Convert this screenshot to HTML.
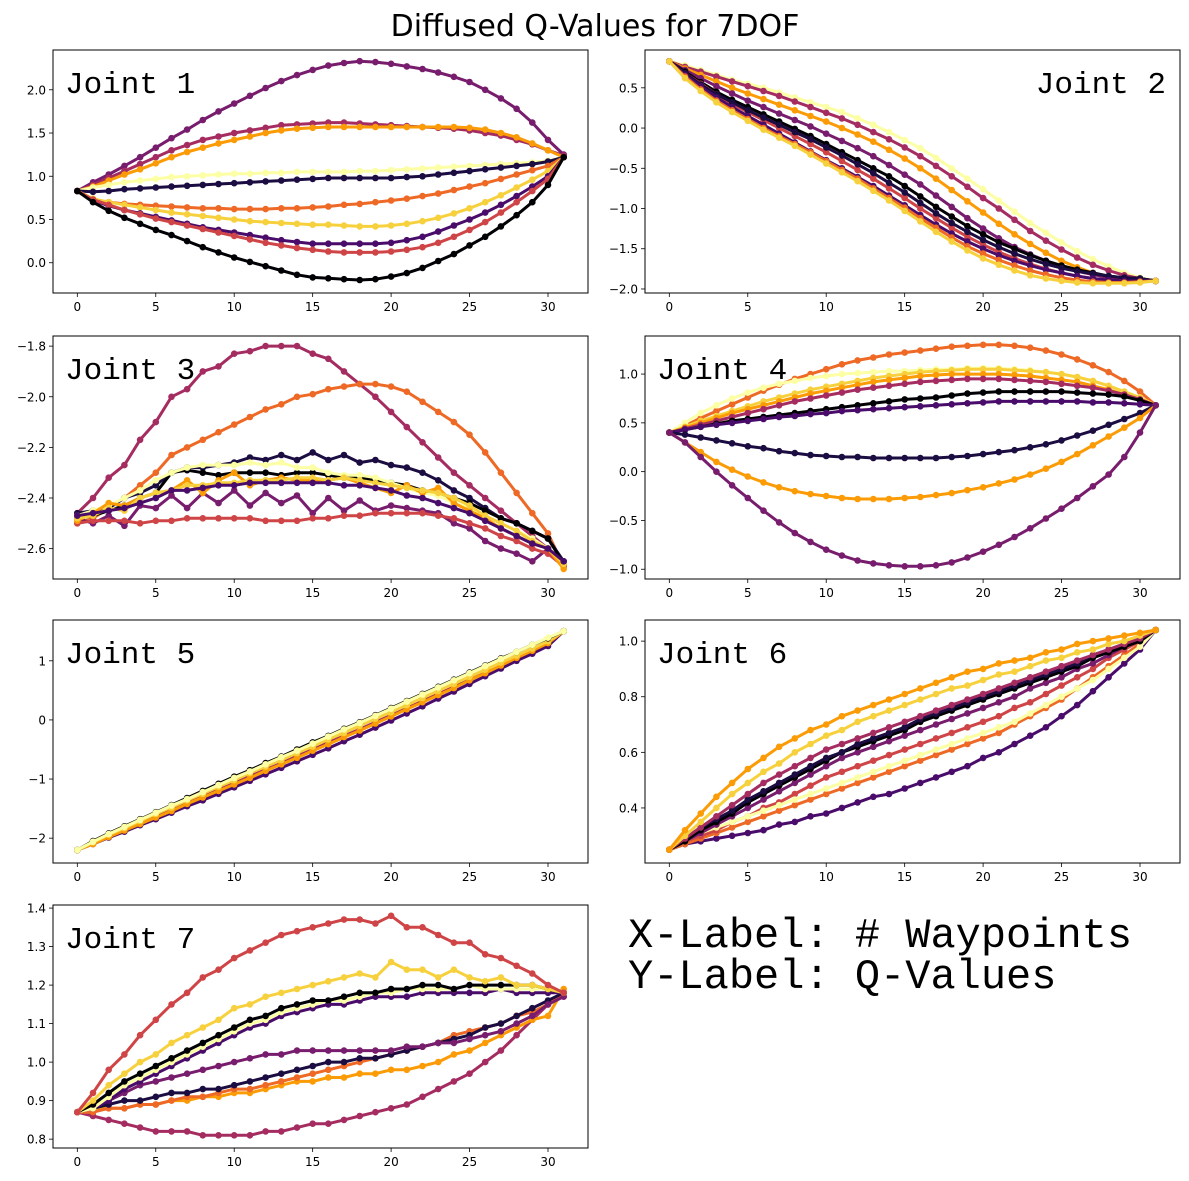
<!DOCTYPE html>
<html><head><meta charset="utf-8">
<style>
html,body{margin:0;padding:0;background:#fff;width:1189px;height:1181px;overflow:hidden}
svg{display:block}
text{font-family:"DejaVu Sans","Liberation Sans",sans-serif}
.mono{font-family:"Liberation Mono",monospace}
</style></head>
<body>
<svg id="fig" width="1189" height="1181" viewBox="0 0 1189 1181">
<text x="595" y="36" text-anchor="middle" font-size="30">Diffused Q-Values for 7DOF</text>
<text class="mono" x="628" y="947" font-size="42">X-Label: # Waypoints</text>
<text class="mono" x="628" y="988" font-size="42">Y-Label: Q-Values</text>
</svg>
<script>
const xTicks = [0,5,10,15,20,25,30];

const j1Colors = ["#781c6d","#a52c60","#fb9b06","#fcffa4","#1b0c41","#ed6925","#f7d13d","#4a0c6b","#cf4446","#000004"];
const j1Series = [
[0.83,0.93,1.02,1.12,1.22,1.33,1.44,1.54,1.65,1.75,1.84,1.93,2.02,2.1,2.17,2.23,2.28,2.31,2.33,2.32,2.3,2.27,2.24,2.2,2.15,2.09,2.0,1.9,1.78,1.62,1.42,1.25],
[0.83,0.9,0.98,1.06,1.14,1.22,1.3,1.36,1.42,1.46,1.5,1.53,1.56,1.59,1.6,1.61,1.62,1.62,1.61,1.6,1.59,1.58,1.57,1.56,1.55,1.53,1.5,1.47,1.42,1.37,1.3,1.24],
[0.83,0.88,0.95,1.02,1.08,1.15,1.22,1.28,1.33,1.38,1.42,1.46,1.5,1.53,1.55,1.56,1.57,1.57,1.57,1.57,1.57,1.57,1.57,1.57,1.57,1.56,1.54,1.5,1.45,1.38,1.3,1.22],
[0.83,0.87,0.9,0.93,0.95,0.97,0.99,1.0,1.01,1.02,1.03,1.03,1.04,1.04,1.05,1.05,1.05,1.05,1.06,1.06,1.07,1.08,1.09,1.1,1.11,1.12,1.13,1.14,1.15,1.16,1.18,1.22],
[0.83,0.82,0.83,0.85,0.86,0.87,0.88,0.89,0.9,0.91,0.92,0.93,0.94,0.95,0.96,0.97,0.98,0.98,0.98,0.98,0.98,0.99,1.0,1.02,1.04,1.06,1.08,1.1,1.12,1.14,1.17,1.22],
[0.83,0.72,0.7,0.68,0.67,0.66,0.65,0.64,0.63,0.63,0.62,0.62,0.62,0.63,0.63,0.64,0.65,0.67,0.68,0.7,0.72,0.74,0.77,0.8,0.84,0.88,0.92,0.97,1.02,1.07,1.12,1.22],
[0.83,0.74,0.7,0.67,0.64,0.61,0.58,0.56,0.54,0.52,0.5,0.48,0.47,0.46,0.45,0.44,0.44,0.43,0.42,0.42,0.43,0.45,0.48,0.52,0.57,0.63,0.7,0.78,0.87,0.96,1.06,1.22],
[0.83,0.72,0.66,0.61,0.57,0.53,0.49,0.45,0.41,0.38,0.35,0.32,0.29,0.26,0.24,0.22,0.22,0.22,0.22,0.22,0.23,0.26,0.3,0.36,0.43,0.5,0.58,0.67,0.77,0.88,1.0,1.22],
[0.83,0.73,0.67,0.61,0.56,0.51,0.47,0.43,0.39,0.35,0.31,0.27,0.23,0.2,0.17,0.15,0.13,0.12,0.12,0.12,0.13,0.15,0.18,0.23,0.3,0.38,0.47,0.58,0.7,0.83,0.97,1.22],
[0.83,0.7,0.6,0.52,0.45,0.38,0.32,0.25,0.18,0.12,0.06,0.01,-0.04,-0.09,-0.14,-0.17,-0.18,-0.19,-0.2,-0.19,-0.16,-0.12,-0.06,0.02,0.1,0.2,0.3,0.42,0.55,0.7,0.9,1.22]];
const j1Ticks = [0,0.5,1,1.5,2];
const j1Range = [-0.35,2.46];

const j2Colors = ["#fcffa4","#a52c60","#fb9b06","#781c6d","#000004","#cf4446","#1b0c41","#4a0c6b","#ed6925","#f7d13d"];
const j2Series = [
[0.83,0.78,0.72,0.66,0.6,0.55,0.5,0.44,0.38,0.32,0.26,0.2,0.12,0.04,-0.05,-0.15,-0.25,-0.37,-0.5,-0.63,-0.76,-0.9,-1.04,-1.18,-1.3,-1.42,-1.53,-1.63,-1.72,-1.8,-1.86,-1.9],
[0.83,0.76,0.7,0.64,0.58,0.52,0.46,0.4,0.33,0.26,0.19,0.12,0.04,-0.05,-0.14,-0.24,-0.35,-0.47,-0.6,-0.73,-0.87,-1.0,-1.14,-1.28,-1.4,-1.51,-1.61,-1.7,-1.77,-1.83,-1.87,-1.9],
[0.83,0.74,0.66,0.58,0.5,0.43,0.36,0.29,0.22,0.15,0.08,0.0,-0.08,-0.17,-0.27,-0.38,-0.5,-0.63,-0.77,-0.91,-1.05,-1.19,-1.32,-1.44,-1.55,-1.65,-1.73,-1.8,-1.85,-1.88,-1.9,-1.9],
[0.83,0.72,0.62,0.52,0.43,0.34,0.26,0.18,0.1,0.02,-0.07,-0.16,-0.25,-0.35,-0.46,-0.58,-0.7,-0.84,-0.98,-1.12,-1.25,-1.37,-1.48,-1.57,-1.65,-1.72,-1.78,-1.82,-1.86,-1.88,-1.89,-1.9],
[0.83,0.7,0.57,0.45,0.35,0.26,0.17,0.08,-0.01,-0.1,-0.2,-0.3,-0.4,-0.5,-0.6,-0.72,-0.85,-0.98,-1.1,-1.22,-1.32,-1.42,-1.5,-1.58,-1.65,-1.71,-1.76,-1.8,-1.84,-1.86,-1.87,-1.9],
[0.83,0.68,0.55,0.42,0.3,0.2,0.1,0.0,-0.1,-0.2,-0.3,-0.41,-0.52,-0.63,-0.75,-0.87,-1.0,-1.12,-1.24,-1.35,-1.45,-1.54,-1.62,-1.69,-1.75,-1.8,-1.84,-1.87,-1.89,-1.9,-1.9,-1.9],
[0.83,0.68,0.54,0.42,0.32,0.22,0.13,0.04,-0.05,-0.14,-0.24,-0.34,-0.45,-0.56,-0.68,-0.8,-0.93,-1.06,-1.18,-1.29,-1.39,-1.48,-1.56,-1.63,-1.69,-1.74,-1.78,-1.81,-1.84,-1.86,-1.87,-1.9],
[0.83,0.66,0.52,0.38,0.26,0.15,0.04,-0.07,-0.18,-0.29,-0.4,-0.5,-0.61,-0.72,-0.84,-0.96,-1.08,-1.2,-1.31,-1.41,-1.5,-1.58,-1.65,-1.71,-1.76,-1.8,-1.84,-1.87,-1.89,-1.9,-1.9,-1.9],
[0.83,0.64,0.48,0.34,0.22,0.11,0.0,-0.1,-0.2,-0.3,-0.41,-0.52,-0.63,-0.75,-0.87,-0.99,-1.12,-1.24,-1.36,-1.47,-1.56,-1.64,-1.71,-1.77,-1.82,-1.86,-1.89,-1.91,-1.92,-1.92,-1.91,-1.9],
[0.83,0.62,0.46,0.32,0.2,0.09,-0.02,-0.12,-0.22,-0.33,-0.44,-0.55,-0.66,-0.78,-0.9,-1.03,-1.16,-1.29,-1.41,-1.52,-1.62,-1.7,-1.77,-1.83,-1.87,-1.9,-1.92,-1.93,-1.93,-1.93,-1.92,-1.9]];
const j2Ticks = [-2,-1.5,-1,-0.5,0,0.5];
const j2Range = [-2.05,0.97];

const j3Colors = ["#a52c60","#ed6925","#1b0c41","#000004","#fcffa4","#781c6d","#cf4446","#fb9b06","#f7d13d","#4a0c6b"];
const j3Series = [
[-2.46,-2.4,-2.32,-2.27,-2.17,-2.1,-2.0,-1.97,-1.9,-1.88,-1.83,-1.82,-1.8,-1.8,-1.8,-1.83,-1.85,-1.9,-1.95,-2.0,-2.06,-2.12,-2.18,-2.24,-2.3,-2.35,-2.4,-2.45,-2.5,-2.55,-2.6,-2.66],
[-2.5,-2.48,-2.44,-2.4,-2.35,-2.3,-2.23,-2.2,-2.17,-2.14,-2.11,-2.08,-2.05,-2.03,-2.0,-1.99,-1.97,-1.96,-1.95,-1.95,-1.96,-1.98,-2.02,-2.06,-2.1,-2.15,-2.22,-2.3,-2.38,-2.46,-2.54,-2.67],
[-2.46,-2.45,-2.44,-2.4,-2.38,-2.35,-2.3,-2.28,-2.28,-2.27,-2.26,-2.24,-2.25,-2.23,-2.25,-2.22,-2.25,-2.23,-2.26,-2.25,-2.27,-2.28,-2.3,-2.33,-2.37,-2.4,-2.44,-2.48,-2.5,-2.53,-2.56,-2.65],
[-2.48,-2.47,-2.45,-2.43,-2.4,-2.38,-2.3,-2.29,-2.3,-2.31,-2.3,-2.3,-2.3,-2.31,-2.3,-2.3,-2.31,-2.32,-2.32,-2.33,-2.34,-2.35,-2.37,-2.38,-2.4,-2.42,-2.45,-2.48,-2.5,-2.53,-2.56,-2.66],
[-2.47,-2.45,-2.43,-2.4,-2.37,-2.33,-2.3,-2.28,-2.27,-2.27,-2.27,-2.26,-2.27,-2.26,-2.28,-2.28,-2.3,-2.31,-2.31,-2.32,-2.34,-2.36,-2.38,-2.39,-2.42,-2.44,-2.47,-2.5,-2.53,-2.56,-2.6,-2.66],
[-2.48,-2.5,-2.47,-2.51,-2.43,-2.44,-2.39,-2.44,-2.38,-2.42,-2.37,-2.43,-2.38,-2.42,-2.39,-2.46,-2.4,-2.45,-2.41,-2.45,-2.43,-2.44,-2.45,-2.46,-2.5,-2.52,-2.57,-2.6,-2.62,-2.65,-2.6,-2.66],
[-2.5,-2.49,-2.49,-2.49,-2.5,-2.49,-2.49,-2.48,-2.48,-2.48,-2.48,-2.48,-2.49,-2.49,-2.49,-2.48,-2.48,-2.47,-2.47,-2.46,-2.46,-2.46,-2.46,-2.47,-2.48,-2.5,-2.52,-2.55,-2.57,-2.6,-2.62,-2.67],
[-2.49,-2.46,-2.42,-2.43,-2.4,-2.38,-2.37,-2.33,-2.38,-2.33,-2.3,-2.35,-2.33,-2.32,-2.33,-2.33,-2.33,-2.32,-2.34,-2.36,-2.38,-2.35,-2.38,-2.36,-2.42,-2.45,-2.48,-2.52,-2.55,-2.58,-2.6,-2.68],
[-2.48,-2.47,-2.44,-2.45,-2.4,-2.38,-2.37,-2.35,-2.35,-2.34,-2.34,-2.33,-2.33,-2.33,-2.32,-2.32,-2.33,-2.32,-2.33,-2.34,-2.35,-2.36,-2.37,-2.38,-2.4,-2.43,-2.47,-2.5,-2.53,-2.57,-2.6,-2.66],
[-2.47,-2.46,-2.45,-2.44,-2.42,-2.4,-2.37,-2.37,-2.36,-2.35,-2.35,-2.34,-2.34,-2.34,-2.34,-2.34,-2.34,-2.35,-2.35,-2.36,-2.37,-2.39,-2.4,-2.42,-2.44,-2.46,-2.49,-2.52,-2.55,-2.58,-2.6,-2.65]];
const j3Ticks = [-2.6,-2.4,-2.2,-2.0,-1.8];
const j3Range = [-2.72,-1.76];

const j4Colors = ["#ed6925","#fcffa4","#f7d13d","#fb9b06","#a52c60","#000004","#4a0c6b","#1b0c41","#fb9b06","#781c6d"];
const j4Series = [
[0.4,0.47,0.55,0.62,0.69,0.76,0.83,0.89,0.95,1.0,1.05,1.1,1.14,1.17,1.2,1.22,1.24,1.26,1.28,1.29,1.3,1.3,1.29,1.27,1.24,1.2,1.15,1.09,1.02,0.93,0.82,0.68],
[0.4,0.5,0.6,0.68,0.75,0.81,0.86,0.9,0.93,0.96,0.98,1.0,1.01,1.02,1.03,1.03,1.04,1.05,1.05,1.06,1.06,1.06,1.05,1.04,1.02,1.0,0.97,0.93,0.88,0.82,0.76,0.68],
[0.4,0.46,0.52,0.57,0.62,0.67,0.72,0.76,0.8,0.84,0.87,0.9,0.93,0.96,0.98,1.0,1.02,1.03,1.04,1.05,1.05,1.05,1.04,1.03,1.02,1.0,0.97,0.93,0.88,0.82,0.76,0.68],
[0.4,0.45,0.5,0.55,0.6,0.64,0.68,0.72,0.76,0.8,0.83,0.86,0.89,0.92,0.94,0.96,0.98,0.99,1.0,1.0,1.0,1.0,0.99,0.98,0.96,0.94,0.92,0.88,0.84,0.79,0.74,0.68],
[0.4,0.44,0.48,0.52,0.56,0.6,0.64,0.68,0.72,0.75,0.78,0.81,0.84,0.86,0.88,0.9,0.92,0.93,0.94,0.95,0.95,0.95,0.94,0.93,0.92,0.9,0.88,0.86,0.83,0.79,0.74,0.68],
[0.4,0.43,0.46,0.49,0.52,0.54,0.56,0.58,0.6,0.62,0.64,0.66,0.68,0.7,0.72,0.74,0.75,0.76,0.78,0.8,0.81,0.82,0.82,0.82,0.82,0.82,0.81,0.8,0.79,0.77,0.73,0.68],
[0.4,0.43,0.46,0.48,0.5,0.52,0.54,0.56,0.57,0.59,0.6,0.62,0.63,0.64,0.65,0.66,0.67,0.68,0.69,0.7,0.71,0.72,0.72,0.72,0.72,0.72,0.72,0.71,0.71,0.7,0.69,0.68],
[0.4,0.38,0.35,0.32,0.29,0.26,0.24,0.21,0.19,0.17,0.16,0.15,0.15,0.14,0.14,0.14,0.14,0.14,0.15,0.16,0.18,0.2,0.22,0.25,0.28,0.32,0.37,0.42,0.48,0.54,0.6,0.68],
[0.4,0.3,0.2,0.1,0.02,-0.05,-0.11,-0.16,-0.2,-0.23,-0.25,-0.27,-0.28,-0.28,-0.28,-0.27,-0.26,-0.24,-0.22,-0.19,-0.16,-0.12,-0.08,-0.03,0.03,0.1,0.18,0.27,0.36,0.45,0.55,0.68],
[0.4,0.3,0.15,0.0,-0.14,-0.27,-0.4,-0.52,-0.63,-0.72,-0.8,-0.86,-0.91,-0.94,-0.96,-0.97,-0.97,-0.96,-0.93,-0.88,-0.82,-0.75,-0.67,-0.58,-0.48,-0.38,-0.27,-0.15,-0.03,0.15,0.4,0.68]];
const j4Ticks = [-1,-0.5,0,0.5,1];
const j4Range = [-1.10,1.39];

const j5Colors = ["#4a0c6b","#a52c60","#fb9b06","#f7d13d","#000004","#fcffa4"];
const j5Series = [
[-2.2,-2.1,-1.99,-1.89,-1.78,-1.68,-1.57,-1.46,-1.36,-1.25,-1.14,-1.03,-0.92,-0.81,-0.7,-0.59,-0.48,-0.36,-0.25,-0.13,-0.01,0.11,0.23,0.36,0.48,0.61,0.74,0.87,1.0,1.12,1.25,1.5],
[-2.2,-2.09,-1.97,-1.86,-1.74,-1.63,-1.52,-1.4,-1.29,-1.18,-1.06,-0.95,-0.84,-0.72,-0.61,-0.5,-0.38,-0.27,-0.16,-0.04,0.08,0.2,0.32,0.44,0.56,0.69,0.81,0.93,1.06,1.18,1.3,1.5],
[-2.2,-2.1,-1.98,-1.87,-1.76,-1.65,-1.54,-1.42,-1.31,-1.2,-1.09,-0.98,-0.86,-0.75,-0.64,-0.52,-0.41,-0.29,-0.18,-0.06,0.06,0.18,0.3,0.42,0.54,0.67,0.79,0.92,1.05,1.17,1.3,1.5],
[-2.2,-2.07,-1.94,-1.83,-1.71,-1.59,-1.48,-1.36,-1.25,-1.13,-1.02,-0.9,-0.79,-0.68,-0.56,-0.45,-0.33,-0.22,-0.1,0.02,0.13,0.25,0.37,0.49,0.61,0.73,0.85,0.97,1.09,1.21,1.33,1.5],
[-2.2,-2.05,-1.92,-1.8,-1.68,-1.56,-1.44,-1.32,-1.2,-1.08,-0.96,-0.85,-0.73,-0.62,-0.5,-0.38,-0.27,-0.15,-0.04,0.08,0.2,0.32,0.44,0.56,0.68,0.8,0.92,1.04,1.15,1.27,1.38,1.5],
[-2.2,-2.06,-1.93,-1.81,-1.69,-1.57,-1.45,-1.34,-1.22,-1.1,-0.98,-0.87,-0.75,-0.63,-0.52,-0.4,-0.28,-0.16,-0.05,0.07,0.19,0.31,0.43,0.55,0.67,0.79,0.91,1.03,1.15,1.27,1.39,1.5]];
const j5Ticks = [-2,-1,0,1];
const j5Range = [-2.42,1.69];

const j6Colors = ["#4a0c6b","#ed6925","#cf4446","#fcffa4","#781c6d","#000004","#1b0c41","#a52c60","#f7d13d","#fb9b06"];
const j6Series = [
[0.25,0.27,0.28,0.29,0.3,0.31,0.32,0.34,0.35,0.37,0.38,0.4,0.42,0.44,0.45,0.47,0.49,0.51,0.53,0.55,0.58,0.6,0.63,0.66,0.69,0.73,0.77,0.82,0.87,0.92,0.97,1.04],
[0.25,0.27,0.29,0.31,0.33,0.35,0.37,0.39,0.41,0.43,0.45,0.47,0.49,0.51,0.53,0.55,0.57,0.59,0.61,0.63,0.65,0.67,0.7,0.73,0.76,0.79,0.83,0.87,0.91,0.95,0.99,1.04],
[0.25,0.28,0.3,0.32,0.35,0.37,0.4,0.42,0.45,0.48,0.51,0.53,0.55,0.57,0.59,0.61,0.63,0.65,0.67,0.69,0.71,0.73,0.76,0.78,0.81,0.84,0.87,0.9,0.94,0.97,1.0,1.04],
[0.25,0.28,0.31,0.33,0.35,0.37,0.39,0.41,0.43,0.45,0.47,0.49,0.51,0.53,0.55,0.57,0.59,0.61,0.63,0.65,0.67,0.69,0.71,0.74,0.77,0.8,0.83,0.86,0.9,0.94,0.98,1.04],
[0.25,0.28,0.31,0.34,0.37,0.4,0.43,0.46,0.49,0.52,0.55,0.58,0.6,0.62,0.64,0.66,0.68,0.7,0.72,0.74,0.76,0.78,0.8,0.83,0.85,0.87,0.9,0.92,0.95,0.98,1.0,1.04],
[0.25,0.28,0.32,0.35,0.38,0.42,0.45,0.48,0.51,0.54,0.57,0.6,0.62,0.64,0.66,0.68,0.71,0.73,0.75,0.77,0.79,0.81,0.83,0.85,0.87,0.89,0.91,0.94,0.96,0.98,1.0,1.04],
[0.25,0.29,0.33,0.36,0.39,0.43,0.46,0.49,0.52,0.55,0.58,0.6,0.63,0.65,0.67,0.69,0.72,0.74,0.76,0.78,0.8,0.82,0.84,0.86,0.88,0.9,0.92,0.95,0.97,0.99,1.01,1.04],
[0.25,0.29,0.33,0.37,0.41,0.45,0.49,0.52,0.55,0.58,0.61,0.63,0.65,0.67,0.69,0.71,0.73,0.75,0.77,0.79,0.81,0.83,0.85,0.87,0.89,0.91,0.93,0.95,0.97,0.99,1.01,1.04],
[0.25,0.3,0.35,0.4,0.45,0.49,0.53,0.56,0.6,0.63,0.66,0.68,0.71,0.73,0.75,0.77,0.79,0.81,0.83,0.84,0.86,0.88,0.89,0.91,0.93,0.94,0.96,0.97,0.99,1.0,1.02,1.04],
[0.25,0.32,0.38,0.44,0.49,0.54,0.58,0.62,0.65,0.68,0.7,0.73,0.75,0.77,0.79,0.81,0.83,0.85,0.87,0.89,0.9,0.92,0.93,0.94,0.96,0.97,0.99,1.0,1.01,1.02,1.03,1.04]];
const j6Ticks = [0.4,0.6,0.8,1.0];
const j6Range = [0.202,1.076];

const j7Colors = ["#a52c60","#fb9b06","#ed6925","#1b0c41","#781c6d","#4a0c6b","#fcffa4","#000004","#f7d13d","#cf4446"];
const j7Series = [
[0.87,0.86,0.85,0.84,0.83,0.82,0.82,0.82,0.81,0.81,0.81,0.81,0.82,0.82,0.83,0.84,0.84,0.85,0.86,0.87,0.88,0.89,0.91,0.93,0.95,0.97,1.0,1.03,1.07,1.11,1.15,1.18],
[0.87,0.88,0.88,0.88,0.89,0.89,0.9,0.9,0.91,0.91,0.92,0.92,0.93,0.94,0.95,0.95,0.96,0.96,0.97,0.97,0.98,0.98,0.99,1.0,1.02,1.03,1.05,1.07,1.09,1.11,1.12,1.19],
[0.87,0.87,0.88,0.88,0.89,0.89,0.9,0.91,0.91,0.92,0.93,0.93,0.94,0.95,0.96,0.97,0.98,0.99,1.0,1.01,1.02,1.03,1.04,1.05,1.07,1.08,1.09,1.1,1.12,1.13,1.15,1.18],
[0.87,0.88,0.89,0.9,0.9,0.91,0.92,0.92,0.93,0.93,0.94,0.95,0.96,0.97,0.98,0.99,1.0,1.0,1.01,1.01,1.02,1.03,1.04,1.05,1.06,1.07,1.09,1.1,1.12,1.14,1.16,1.18],
[0.87,0.89,0.9,0.92,0.94,0.95,0.96,0.97,0.98,0.99,1.0,1.01,1.02,1.02,1.03,1.03,1.03,1.03,1.03,1.03,1.03,1.04,1.04,1.05,1.05,1.06,1.07,1.08,1.1,1.12,1.15,1.17],
[0.87,0.88,0.9,0.93,0.95,0.97,0.99,1.01,1.03,1.05,1.07,1.09,1.1,1.12,1.13,1.14,1.15,1.15,1.16,1.17,1.17,1.17,1.18,1.18,1.18,1.18,1.18,1.19,1.18,1.18,1.18,1.18],
[0.87,0.88,0.91,0.94,0.96,0.98,1.0,1.02,1.04,1.06,1.08,1.1,1.11,1.13,1.14,1.15,1.16,1.16,1.17,1.18,1.18,1.19,1.19,1.19,1.19,1.2,1.19,1.19,1.19,1.19,1.19,1.18],
[0.87,0.89,0.92,0.95,0.97,0.99,1.01,1.03,1.05,1.07,1.09,1.11,1.12,1.14,1.15,1.16,1.16,1.17,1.18,1.18,1.19,1.19,1.2,1.2,1.19,1.2,1.2,1.2,1.2,1.2,1.19,1.18],
[0.87,0.9,0.94,0.97,1.0,1.02,1.05,1.07,1.09,1.11,1.14,1.15,1.17,1.18,1.19,1.2,1.21,1.22,1.23,1.22,1.26,1.24,1.24,1.22,1.24,1.22,1.21,1.22,1.2,1.2,1.19,1.18],
[0.87,0.92,0.98,1.02,1.07,1.11,1.15,1.18,1.22,1.24,1.27,1.29,1.31,1.33,1.34,1.35,1.36,1.37,1.37,1.36,1.38,1.35,1.35,1.33,1.31,1.31,1.28,1.27,1.25,1.23,1.2,1.18]];
const j7Ticks = [0.8,0.9,1.0,1.1,1.2,1.3,1.4];
const j7Range = [0.777,1.408];

const NS = "http://www.w3.org/2000/svg";
const svg = document.getElementById('fig');
function mk(tag, attrs, parent){
  const e = document.createElementNS(NS, tag);
  for (const k in attrs) e.setAttribute(k, attrs[k]);
  (parent||svg).appendChild(e);
  return e;
}
function fmt(v, dec){ const s = v.toFixed(dec); return s.replace('-', '\u2212'); }

function panel(num, box, series, colors, yTicks, yRange, dec, labelRight){
  const [L,T,R,B] = box;
  const g = mk('g', {});
  
  
  const xs = v => L + (v + 1.55) / 34.1 * (R - L);
  const ys = v => B - (v - yRange[0]) / (yRange[1] - yRange[0]) * (B - T);
  const clip = mk('clipPath', {id:'clip'+num}, g);
  mk('rect', {x:L, y:T, width:R-L, height:B-T}, clip);
  const plot = mk('g', {'clip-path':'url(#clip'+num+')'}, g);
  series.forEach((s, si) => {
    const pts = s.map((v,i) => xs(i).toFixed(1) + ',' + ys(v).toFixed(1)).join(' ');
    const line = mk('polyline', {points:pts, fill:'none', stroke:colors[si], 'stroke-width':3, 'stroke-linejoin':'round'}, plot);
    
    
    s.forEach((v,i) => {
      const c = mk('circle', {cx:xs(i).toFixed(1), cy:ys(v).toFixed(1), r:3.3, fill:colors[si]}, plot);
      
      
    });
  });
  const frame = mk('rect', {x:L, y:T, width:R-L, height:B-T, fill:'none', stroke:'#000', 'stroke-width':1}, g);
  
  
  xTicks.forEach(t => {
    const x = xs(t);
    mk('line', {x1:x, x2:x, y1:B, y2:B+4, stroke:'#000', 'stroke-width':0.8}, g);
    const tx = mk('text', {x:x, y:B+18, 'text-anchor':'middle', 'font-size':12}, g);
    tx.textContent = String(t);
    
    
  });
  yTicks.forEach(t => {
    const y = ys(t);
    mk('line', {x1:L-4, x2:L, y1:y, y2:y, stroke:'#000', 'stroke-width':0.8}, g);
    const tx = mk('text', {x:L-7, y:y+4.5, 'text-anchor':'end', 'font-size':12}, g);
    tx.textContent = fmt(t, dec);
    
    
  });
  const lbl = mk('text', {x: labelRight ? R-14 : L+12, y:T+43, 'text-anchor': labelRight ? 'end' : 'start', 'font-size':31, class:'mono'}, g);
  lbl.textContent = 'Joint ' + num;
  
  
}
const LB = [53, 588], RB = [645, 1180];
panel(1, [LB[0],50,LB[1],293], j1Series, j1Colors, j1Ticks, j1Range, 1, false);
panel(2, [RB[0],50,RB[1],293], j2Series, j2Colors, j2Ticks, j2Range, 1, true);
panel(3, [LB[0],336,LB[1],579], j3Series, j3Colors, j3Ticks, j3Range, 1, false);
panel(4, [RB[0],336,RB[1],579], j4Series, j4Colors, j4Ticks, j4Range, 1, false);
panel(5, [LB[0],620,LB[1],863], j5Series, j5Colors, j5Ticks, j5Range, 0, false);
panel(6, [RB[0],620,RB[1],863], j6Series, j6Colors, j6Ticks, j6Range, 1, false);
panel(7, [LB[0],905,LB[1],1148], j7Series, j7Colors, j7Ticks, j7Range, 1, false);
</script>
</body></html>
